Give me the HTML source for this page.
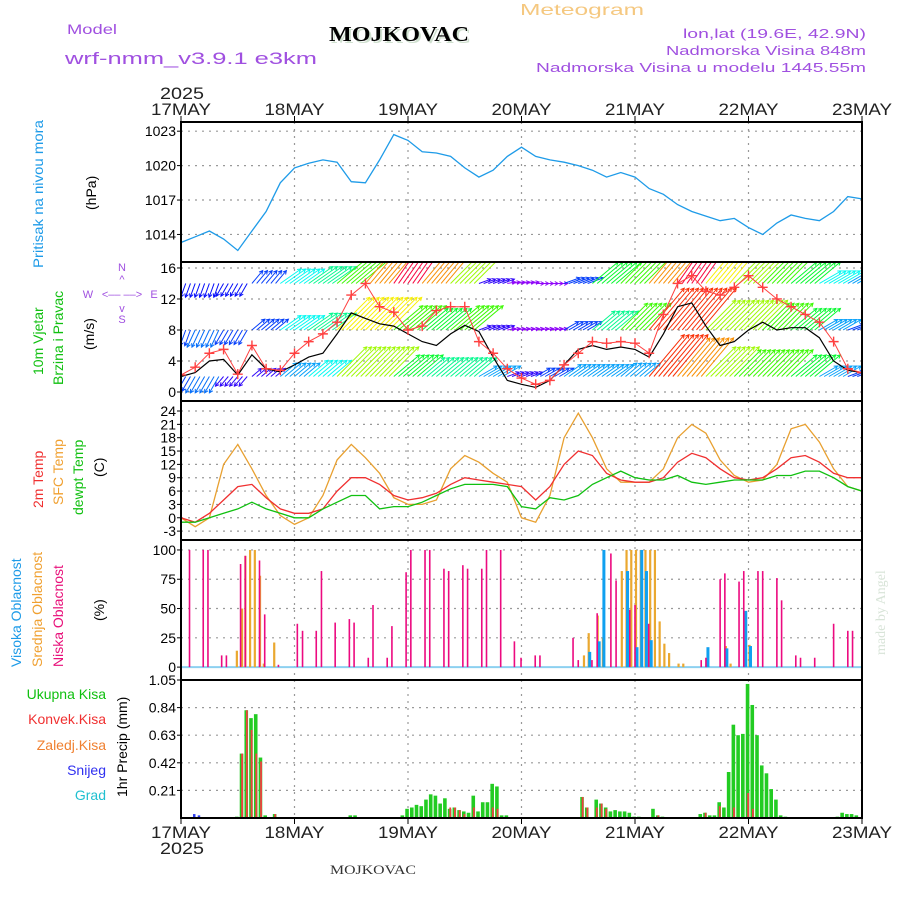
<!DOCTYPE html>
<html><head><meta charset="utf-8"><style>
html,body{margin:0;padding:0;background:#fff;}
svg{display:block;font-family:"Liberation Sans",sans-serif;}
</style></head><body>
<svg id="chart" width="900" height="900" viewBox="0 0 900 900" xmlns="http://www.w3.org/2000/svg">
<rect x="0" y="0" width="900" height="900" fill="#fff"/>
<g id="hdr">
<text x="582" y="15" font-size="16" fill="#f5c880" text-anchor="middle" textLength="124" lengthAdjust="spacingAndGlyphs">Meteogram</text>
<text x="67" y="34" font-size="14" fill="#a050e0" textLength="50" lengthAdjust="spacingAndGlyphs">Model</text>
<text x="331" y="43" font-size="21" font-weight="bold" fill="#cfe0cf" font-family="Liberation Serif,serif" textLength="140" lengthAdjust="spacingAndGlyphs">MOJKOVAC</text>
<text x="329" y="41" font-size="21" font-weight="bold" fill="#000" font-family="Liberation Serif,serif" textLength="140" lengthAdjust="spacingAndGlyphs">MOJKOVAC</text>
<text x="65" y="64" font-size="17" fill="#a050e0" textLength="252" lengthAdjust="spacingAndGlyphs">wrf-nmm_v3.9.1 e3km</text>
<text x="866" y="38" font-size="13" fill="#a050e0" text-anchor="end" textLength="183" lengthAdjust="spacingAndGlyphs">lon,lat (19.6E, 42.9N)</text>
<text x="866" y="55" font-size="13" fill="#a050e0" text-anchor="end" textLength="200" lengthAdjust="spacingAndGlyphs">Nadmorska Visina 848m</text>
<text x="866" y="72" font-size="13" fill="#a050e0" text-anchor="end" textLength="330" lengthAdjust="spacingAndGlyphs">Nadmorska Visina u modelu 1445.55m</text>
<text x="160" y="99" font-size="17" fill="#222" textLength="44" lengthAdjust="spacingAndGlyphs">2025</text>
<text x="160" y="854" font-size="17" fill="#222" textLength="44" lengthAdjust="spacingAndGlyphs">2025</text>
<text x="330" y="874" font-size="13" fill="#333" font-family="Liberation Serif,serif" textLength="86" lengthAdjust="spacingAndGlyphs">MOJKOVAC</text>
<text transform="translate(885,655) rotate(-90)" font-size="14" fill="#d8e4d8" font-family="Liberation Serif,serif">made by Angel</text>
<text transform="translate(43,268) rotate(-90)" font-size="14" fill="#1e9be8" textLength="148" lengthAdjust="spacingAndGlyphs">Pritisak na nivou mora</text>
<text transform="translate(96,210) rotate(-90)" font-size="14" fill="#000">(hPa)</text>
<text transform="translate(43,375) rotate(-90)" font-size="14" fill="#10c010">10m Vjetar</text>
<text transform="translate(63,385) rotate(-90)" font-size="14" fill="#10c010">Brzina i Pravac</text>
<text transform="translate(94,350) rotate(-90)" font-size="14" fill="#000">(m/s)</text>
<text x="122" y="271" font-size="11" fill="#a050e0" text-anchor="middle">N</text>
<text x="122" y="283" font-size="11" fill="#a050e0" text-anchor="middle">^</text>
<text x="122" y="298" font-size="11" fill="#a050e0" text-anchor="middle">&lt;–– ––&gt;</text>
<text x="88" y="298" font-size="11" fill="#a050e0" text-anchor="middle">W</text>
<text x="154" y="298" font-size="11" fill="#a050e0" text-anchor="middle">E</text>
<text x="122" y="312" font-size="11" fill="#a050e0" text-anchor="middle">v</text>
<text x="122" y="323" font-size="11" fill="#a050e0" text-anchor="middle">S</text>
<text transform="translate(43,508) rotate(-90)" font-size="14" fill="#f03030">2m Temp</text>
<text transform="translate(63,505) rotate(-90)" font-size="14" fill="#f0a030">SFC Temp</text>
<text transform="translate(83,515) rotate(-90)" font-size="14" fill="#10c010">dewpt Temp</text>
<text transform="translate(104,477) rotate(-90)" font-size="14" fill="#000">(C)</text>
<text transform="translate(21,667) rotate(-90)" font-size="14" fill="#1e9be8">Visoka Oblacnost</text>
<text transform="translate(42,667) rotate(-90)" font-size="14" fill="#f0a030">Srednja Oblacnost</text>
<text transform="translate(63,667) rotate(-90)" font-size="14" fill="#e8107a">Niska Oblacnost</text>
<text transform="translate(104,621) rotate(-90)" font-size="14" fill="#000">(%)</text>
<text x="106" y="699" font-size="14" fill="#10c010" text-anchor="end">Ukupna Kisa</text>
<text x="106" y="724" font-size="14" fill="#f03030" text-anchor="end">Konvek.Kisa</text>
<text x="106" y="750" font-size="14" fill="#f08030" text-anchor="end">Zaledj.Kisa</text>
<text x="106" y="775" font-size="14" fill="#3030f0" text-anchor="end">Snijeg</text>
<text x="106" y="800" font-size="14" fill="#20c0d0" text-anchor="end">Grad</text>
<text transform="translate(127,797) rotate(-90)" font-size="14" fill="#000">1hr Precip (mm)</text>
</g>
</svg>
<script>
// ---------- data ----------
const dayLabels = ["17MAY","18MAY","19MAY","20MAY","21MAY","22MAY","23MAY"];
const hours3 = Array.from({length:49},(_,i)=>i*3);
const pressure = [1013.3,1013.8,1014.3,1013.6,1012.6,1014.3,1016,1018.5,1019.8,1020.2,1020.5,1020.3,1018.6,1018.5,1020.5,1022.7,1022.2,1021.2,1021.1,1020.8,1019.8,1019,1019.6,1020.8,1021.6,1020.8,1020.5,1020.3,1020,1019.6,1019,1019.4,1019,1018,1017.5,1016.6,1016,1015.6,1015.2,1015.4,1014.6,1014,1015,1015.7,1015.4,1015.2,1016,1017.3,1017.1];
const pressTicks = [1014,1017,1020,1023];
const windSpeed = [2,2.5,4,4.2,2.2,4.8,3,2.6,3.5,4.5,5,7.5,10.2,9.5,8.8,8.5,7.5,6.5,6,7.5,8.6,7.8,4.5,1.5,1,0.6,1.5,3.5,5.5,6,5.5,5.8,5.5,4.5,7.5,11,11.5,8.5,6,6.5,8,9,8,8.3,8.3,7,4,2.8,2.5];
const windGust = [2.2,3.2,5,5.5,2.3,6,3,2.8,5,6.5,7.5,9,12.5,14,11,10.3,8,8.5,10.5,11,11,6.5,5,3,1.8,1,1.5,3.5,5,6.5,6.3,6.5,6.3,5,10,14,15,13,12.5,13.5,15,13.5,12,11,10,9,6.5,3,2.5];
const windTicks = [0,4,8,12,16];
const hours6 = Array.from({length:25},(_,i)=>i*6);
const upperDir = [20,20,30,220,235,235,230,220,215,220,225,250,260,270,250,230,225,220,215,220,225,225,230,240,240];
const upperSpd = [3.5,3.5,3.5,4,6,7,9,12,14,12,10,3,2,2,4,8,9,12,14,11,10,9,8,6,5];
const midDir = [20,25,30,230,235,235,225,225,230,230,230,250,260,260,240,230,225,220,220,225,225,225,230,240,250];
const midSpd = [4,4.5,4,4,6,7,11,11,9,8,9,3,2,2,4,7,9,13,13,10,10,9,8,5,4];
const lowDir = [30,30,40,230,230,230,225,225,230,230,230,240,250,240,235,235,230,220,220,225,225,225,230,240,250];
const lowSpd = [4,4.5,3,3,5,6,10,10,8,7,7,5,3,4,5,5,5,13,12,10,9,9,8,5,4];
const sfcTemp = [0,-2,0,12,16.5,11,5,0.5,-1.5,0,5,13,16.5,13.5,10,4.5,3,3,4,11,14,12.5,10,8,0,-1,5,18,23.5,18,11,8,8,8,11,18,21,19,13,9.5,8,8.5,12,20,21,17,11,7,6];
const temp2m = [0,-1,1,4,7,7.5,4.5,2,1,1,2,6,9,9,7.5,5,4,4.5,5.5,7.5,9,8.5,8,7.5,7,4,7,12,15,14,10,8.5,8,8,9,12.5,14.5,13.5,11,9,8.5,9,11,13.5,14,12.5,10,9,9];
const dewpt = [-1,-1,0,1,2,3.5,2,1,0,0,2,3.5,5,5,2,2.5,2.5,3.5,5,6.5,7.5,7.5,7.5,7,2.5,2,4.5,4,5,7.5,9,10.5,9,8.5,8.5,9.5,8,7.5,8,8.5,8.5,8.5,9.5,9.5,10.5,10.5,9,7,6];
const tempTicks = [-3,0,3,6,9,12,15,18,21,24];
const lowCloudH = [1.8,4.7,5.7,8.6,9.6,12.6,13.6,16.6,17.7,20.6,24.6,25.7,28.6,29.7,32.6,35.6,36.6,39.6,40.6,43.6,44.6,47.6,48.6,51.6,52.6,55.6,56.6,59.6,60.6,63.6,64.6,67.6,70.5,71.9,74.9,75.9,82.9,84,86.9,88,90.9,92,94.9,96,98.9,110,111,114,115,118,119,122,123,126,127,130,131,134,138,141,142];
const lowCloudV = [100,100,100,10,10,88,95,91,45,2,37,31,31,82,38,41,38,8,53,8,35,81,100,100,100,84,82,87,84,84,100,100,22,8,10,10,25,6,6,46,97,74,49,53,37,6,8,75,80,73,82,82,82,76,57,10,8,8,37,31,31];
const midCloudH = [11.6,12.7,13.4,14.4,15.4,16.5,17.3,19.5,85,86,87.9,89,93,94,95,96,97,98,99,100,101,102,103,105,106,115,116,120];
const midCloudV = [14,50,95,100,100,78,3,21,10,29,44,25,82,100,100,100,100,100,100,100,39,20,12,3,3,18,3,19];
const highCloudH = [86,88,89,94,96,97,98,99,111,115,119,120];
const highCloudV = [13,22,100,82,17,100,82,23,17,16,48,18];
const cloudTicks = [0,25,50,75,100];
const rainH = [11,12,13,14,15,16,17,19,35,36,46,47,48,49,50,51,52,53,54,55,56,57,58,59,60,61,62,63,64,65,66,67,68,84,85,87,88,89,90,91,92,93,94,95,96,99,100,101,109,110,111,112,113,114,115,116,117,118,119,120,121,122,123,124,125,126,127,138,139,140,141,142];
const rainV = [.01,.49,.82,.76,.79,.46,.02,.03,.02,.02,.02,.07,.08,.10,.09,.14,.18,.17,.11,.15,.07,.08,.06,.05,.04,.17,.05,.12,.12,.26,.24,.02,.02,.16,.08,.14,.11,.08,.05,.06,.05,.05,.04,.01,.01,.07,.02,.01,.03,.04,.02,.02,.12,.08,.35,.71,.63,.64,1.02,.86,.63,.40,.34,.22,.14,.02,.01,.01,.04,.03,.03,.02];
const convH = [12,13,14,15,16,19,56,57,58,59,61,65,66,84,85,87,88,89,100,110,113,116,119,120];
const convV = [.49,.82,.67,.49,.43,.03,.08,.08,.06,.03,.08,.08,.07,.16,.08,.08,.11,.07,.02,.04,.09,.08,.19,.07];
const snowH = [2,3];
const snowV = [.03,.02];
const precipTicks = [0.21,0.42,0.63,0.84,1.05];

// ---------- geometry ----------
const NS = "http://www.w3.org/2000/svg";
const svg = document.getElementById("chart");
const X0 = 181, X1 = 862;
function xs(t){ return X0 + t*(X1-X0)/144; }
function scale(y0,y1,vmin,vmax){ return v => y1 - (v-vmin)*(y1-y0)/(vmax-vmin); }
const panels = [
  {name:"pressure", y0:122, y1:262, f:scale(122,262,1011.6,1023.8), ticks:pressTicks, fmt:v=>String(v)},
  {name:"wind", y0:262, y1:401, f:scale(262,401,-1.16,16.77), ticks:windTicks, fmt:v=>String(v)},
  {name:"temperature", y0:401, y1:540, f:scale(401,540,-5,26.25), ticks:tempTicks, fmt:v=>String(v)},
  {name:"cloud", y0:540, y1:680, f:scale(540,680,-11,108.5), ticks:cloudTicks, fmt:v=>String(v)},
  {name:"precip", y0:680, y1:818, f:scale(680,818,0,1.05), ticks:precipTicks, fmt:v=>v.toFixed(2)}
];
function mk(tag, attrs, parent){
  const e = document.createElementNS(NS, tag);
  for (const k in attrs) e.setAttribute(k, attrs[k]);
  (parent||svg).appendChild(e);
  return e;
}
const defs = mk("defs",{});
panels.forEach((p,i)=>{
  const cp = mk("clipPath",{id:"clip"+i},defs);
  mk("rect",{x:X0,y:p.y0,width:X1-X0,height:p.y1-p.y0},cp);
});

panels.forEach((p,i)=>{
  const g = mk("g",{});
  
  
  p.ticks.forEach(v=>{
    const y = p.f(v);
    const gl = mk("line",{x1:X0,x2:X1,y1:y,y2:y,stroke:"#999","stroke-width":1.2,"stroke-dasharray":"2,5"},g);
    
    
    const tk = mk("line",{x1:X0-4,x2:X0,y1:y,y2:y,stroke:"#000","stroke-width":1},g);
    
    
    const tl = mk("text",{x:X0-5,y:y+5,"font-size":14,"text-anchor":"end",fill:"#000"},g);
    tl.textContent = p.fmt(v);
    
    
  });
  for (let d=1; d<6; d++){
    const x = xs(d*24);
    const vl = mk("line",{x1:x,x2:x,y1:p.y0,y2:p.y1,stroke:"#999","stroke-width":1.2,"stroke-dasharray":"2,5"},g);
    
    
  }
});

function linePath(ts, vs, f){
  return ts.map((t,i)=>(i?"L":"M")+xs(t).toFixed(1)+","+f(vs[i]).toFixed(1)).join(" ");
}
const pl = mk("path",{d:linePath(hours3,pressure,panels[0].f),fill:"none",stroke:"#1e9be8","stroke-width":1.3,"clip-path":"url(#clip0)"});



function windColor(s){ return "hsl("+(250-(s-3)*24)+",95%,50%)"; }
const bands = [{base:14,dir:upperDir,spd:upperSpd,name:"upper"},{base:8,dir:midDir,spd:midSpd,name:"middle"},{base:2,dir:lowDir,spd:lowSpd,name:"lower"}];
const wg = mk("g",{"clip-path":"url(#clip1)"});


bands.forEach(b=>{
  hours6.forEach((t0,i)=>{
    const sp = b.spd[i], dr = b.dir[i];
    const to = (dr+180)*Math.PI/180;
    const L = sp*4.2;
    const dx = Math.sin(to)*L, dy = -Math.cos(to)*L;
    const col = windColor(sp);
    for (let k=0;k<6;k++){
      const t = t0 + k - 3;
      if (t<0 || t>144) continue;
      const x = xs(t), y = panels[1].f(b.base);
      const ex = x+dx, ey = y+dy;
      const a = Math.atan2(dy,dx);
      const h1x = ex - 4*Math.cos(a-0.5), h1y = ey - 4*Math.sin(a-0.5);
      const h2x = ex - 4*Math.cos(a+0.5), h2y = ey - 4*Math.sin(a+0.5);
      const ar = mk("path",{d:`M${x},${y}L${ex},${ey}M${h1x},${h1y}L${ex},${ey}L${h2x},${h2y}`,stroke:col,"stroke-width":1,fill:"none"},wg);
      
      
    }
  });
});
const wl = mk("path",{d:linePath(hours3,windSpeed,panels[1].f),fill:"none",stroke:"#000","stroke-width":1.2,"clip-path":"url(#clip1)"});


const gl = mk("path",{d:linePath(hours3,windGust,panels[1].f),fill:"none",stroke:"#ff4040","stroke-width":1,"clip-path":"url(#clip1)"});


hours3.forEach((t,i)=>{
  const x = xs(t), y = panels[1].f(windGust[i]);
  const m = mk("path",{d:`M${x-5},${y}H${x+5}M${x},${y-5}V${y+5}`,stroke:"#ff4040","stroke-width":1.4,"clip-path":"url(#clip1)"});
  
  
});

const tf = panels[2].f;
const l1 = mk("path",{d:linePath(hours3,sfcTemp,tf),fill:"none",stroke:"#e8a030","stroke-width":1.3,"clip-path":"url(#clip2)"});


const l2 = mk("path",{d:linePath(hours3,temp2m,tf),fill:"none",stroke:"#f03030","stroke-width":1.3,"clip-path":"url(#clip2)"});


const l3 = mk("path",{d:linePath(hours3,dewpt,tf),fill:"none",stroke:"#10c010","stroke-width":1.3,"clip-path":"url(#clip2)"});



const cf = panels[3].f;
const cb = mk("line",{x1:X0,x2:X1,y1:cf(0),y2:cf(0),stroke:"#8cd0f0","stroke-width":2});


function bars(H,V,f,color,w,off,name){
  H.forEach((h,i)=>{
    const x = xs(h)+off, y = f(V[i]), y0 = f(0);
    const r = mk("rect",{x:x-w/2,y:y,width:w,height:Math.max(0,y0-y),fill:color});
    
    
  });
}
bars(midCloudH,midCloudV,cf,"#eaa830",2.2,1,"mid-cloud-bar");
bars(highCloudH,highCloudV,cf,"#10a0f0",3,2,"high-cloud-bar");
bars(lowCloudH,lowCloudV,cf,"#ec0a80",1.6,0,"low-cloud-bar");

const pf = panels[4].f;
bars(rainH.map(h=>h+0.8),rainV,pf,"#22cc22",3.6,0,"total-rain-bar");
bars(convH.map(h=>h+0.8),convV,pf,"#f04040",1.8,0.6,"convective-rain-bar");
bars(snowH.map(h=>h+0.8),snowV,pf,"#3040f0",2.5,0,"snow-bar");

panels.forEach(p=>{
  const fr = mk("rect",{x:X0,y:p.y0,width:X1-X0,height:p.y1-p.y0,fill:"none",stroke:"#000","stroke-width":2});
  
  
});
dayLabels.forEach((lab,d)=>{
  const x = xs(d*24);
  const t1 = mk("line",{x1:x,x2:x,y1:116,y2:122,stroke:"#000","stroke-width":1});
  
  
  const t2 = mk("line",{x1:x,x2:x,y1:818,y2:824,stroke:"#000","stroke-width":1});
  
  
  const a = mk("text",{x:x,y:115,"font-size":17,"text-anchor":"middle",fill:"#222",textLength:60,lengthAdjust:"spacingAndGlyphs"});
  a.textContent = lab;
  
  
  const b = mk("text",{x:x,y:838,"font-size":17,"text-anchor":"middle",fill:"#222",textLength:60,lengthAdjust:"spacingAndGlyphs"});
  b.textContent = lab;
  
  
});
</script>
</body></html>
